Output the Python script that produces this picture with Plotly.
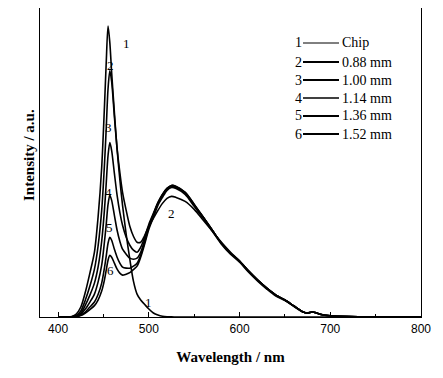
import plotly.graph_objects as go

wavelength = [400, 410, 415, 420, 425, 430, 435, 440, 444, 448, 451, 453, 455, 457, 459, 462,
              465, 468, 471, 475, 479, 483, 487, 491, 495, 500, 505, 510, 515, 520, 525, 530,
              540, 550, 560, 570, 580, 590, 600, 610, 620, 630, 640, 650, 660, 670, 675, 680,
              685, 690, 700, 720, 750, 800]

chip = [0, 0, 0.5, 3, 10, 25, 44, 65, 100, 150, 210, 255, 292, 275, 245, 205,
        168, 138, 112, 83, 58, 36, 23, 17, 13, 8, 4, 2, 0.8, 0.3, 0.1, 0,
        0, 0, 0, 0, 0, 0, 0, 0, 0, 0, 0, 0, 0, 0, 0, 0,
        0, 0, 0, 0, 0, 0]
s088 = [0, 0, 0.3, 1.5, 6, 17, 31, 48, 71, 107, 152, 189, 229, 247, 236, 201,
        169, 145, 125, 107, 91, 81, 75, 75, 81, 91, 99, 107, 114, 119, 121, 120,
        116, 108, 97, 86, 75, 65, 56, 46, 37, 29, 22, 17, 11, 5, 4, 5,
        4, 2.5, 1.2, 0.4, 0.1, 0]
s100 = [0, 0, 0.2, 1, 4, 12, 22, 34, 50, 76, 107, 134, 162, 175, 167, 144,
        122, 105, 92, 80, 72, 67, 65, 70, 79, 93, 104, 115, 123, 129, 132, 131,
        125, 113, 100, 87, 74, 64, 56, 46, 37, 29, 22, 17, 11, 5, 4, 5,
        4, 2.5, 1.2, 0.4, 0.1, 0]
s114 = [0, 0, 0.1, 0.7, 3, 8, 15, 23, 35, 52, 75, 93, 113, 122, 117, 102,
        87, 76, 68, 63, 59, 58, 59, 65, 76, 91, 103, 114, 123, 129, 132, 131,
        125, 113, 100, 87, 74, 64, 56, 46, 37, 29, 22, 17, 11, 5, 4, 5,
        4, 2.5, 1.2, 0.4, 0.1, 0]
s136 = [0, 0, 0.1, 0.5, 2, 5, 10, 15, 22.5, 34, 49, 61, 74, 80, 77, 68,
        60, 54, 50, 49, 49, 51, 54, 62, 74, 90, 102, 114, 122, 128, 131, 130,
        124, 112, 100, 87, 74, 64, 56, 46, 37, 29, 22, 17, 11, 5, 4, 5,
        4, 2.5, 1.2, 0.4, 0.1, 0]
s152 = [0, 0, 0.1, 0.3, 1.4, 4, 7.4, 11.4, 17, 26, 37, 47, 57, 62, 60, 54,
        48, 44, 42, 43, 44.5, 47.5, 51, 60, 72, 88, 100, 112, 120, 127, 130, 129,
        123, 111, 99, 86, 73, 63, 55, 45, 36, 28, 21, 16.5, 10.5, 5, 4, 5,
        4, 2.5, 1.2, 0.4, 0.1, 0]

series = [chip, s088, s100, s114, s136, s152]
legend_numbers = ["1", "2", "3", "4", "5", "6"]
legend_names = ["Chip", "0.88 mm", "1.00 mm", "1.14 mm", "1.36 mm", "1.52 mm"]
x_ticks = [400, 500, 600, 700, 800]

serif = "Liberation Serif, Times New Roman, serif"
sans = "Liberation Sans, Arial, sans-serif"

# plot area in window pixels (page body has an 8px margin)
PL, PR, PT, PB = 40, 421, 8, 317
PW, PH = PR - PL, PB - PT


def px(xw):
    return (xw - PL) / PW


def py(yw):
    return (PB - yw) / PH


fig = go.Figure()
for ys in series:
    fig.add_trace(go.Scatter(x=wavelength, y=ys, mode="lines",
                             line=dict(color="black", width=1.6, shape="spline", smoothing=0.8),
                             showlegend=False, hoverinfo="skip"))

# curve labels
label_pos = [(475, 274, "1"), (458, 252, "2"), (456, 190, "3"), (456, 125, "4"),
             (457, 90, "5"), (458, 47, "6"), (500, 15, "1"), (525, 104, "2")]
for lx, ly, t in label_pos:
    fig.add_annotation(x=lx, y=ly, text=t, showarrow=False,
                       font=dict(family=serif, size=13, color="black"))

# legend
row_y = [43, 62, 80, 98, 116, 134]
widths = [1.0, 2.2, 1.8, 1.6, 1.8, 2.2]
for i, (num, name) in enumerate(zip(legend_numbers, legend_names)):
    yp = py(row_y[i])
    fig.add_shape(type="line", xref="paper", yref="paper", x0=px(303), x1=px(339),
                  y0=yp, y1=yp, line=dict(color="black", width=widths[i]))
    fig.add_annotation(xref="paper", yref="paper", x=px(304), y=yp, text=num, showarrow=False,
                       xanchor="right", yanchor="middle",
                       font=dict(family=serif, size=14, color="black"))
    fig.add_annotation(xref="paper", yref="paper", x=px(340), y=yp, text=name,
                       showarrow=False, xanchor="left", yanchor="middle",
                       font=dict(family=serif, size=14, color="black"))

# y title
fig.add_annotation(xref="paper", yref="paper", x=px(29), y=py(155),
                   text="<b>Intensity / a.u.</b>", textangle=-90, showarrow=False,
                   xanchor="center", yanchor="middle",
                   font=dict(family=serif, size=15, color="black"))

fig.update_layout(
    width=435, height=362,
    margin=dict(l=PL - 8, r=435 - (PR - 8), t=0, b=362 - (PB - 8)),
    paper_bgcolor="white", plot_bgcolor="white",
    showlegend=False,
)
fig.update_xaxes(range=[380, 800], tickvals=x_ticks, ticks="inside", ticklen=5,
                 tickwidth=1, tickcolor="black",
                 minor=dict(dtick=50, ticks="inside", ticklen=3, tickcolor="black"),
                 showline=True, linecolor="black", linewidth=1.2, mirror=True,
                 showgrid=False, zeroline=False,
                 tickfont=dict(family=sans, size=12, color="black"),
                 title=dict(text="<b>Wavelength / nm</b>", standoff=16,
                            font=dict(family=serif, size=15, color="black")))
fig.update_yaxes(range=[0, 310], showticklabels=False, ticks="",
                 showline=True, linecolor="black", linewidth=1.2, mirror=True,
                 showgrid=False, zeroline=False)

fig.write_html("out.html")
